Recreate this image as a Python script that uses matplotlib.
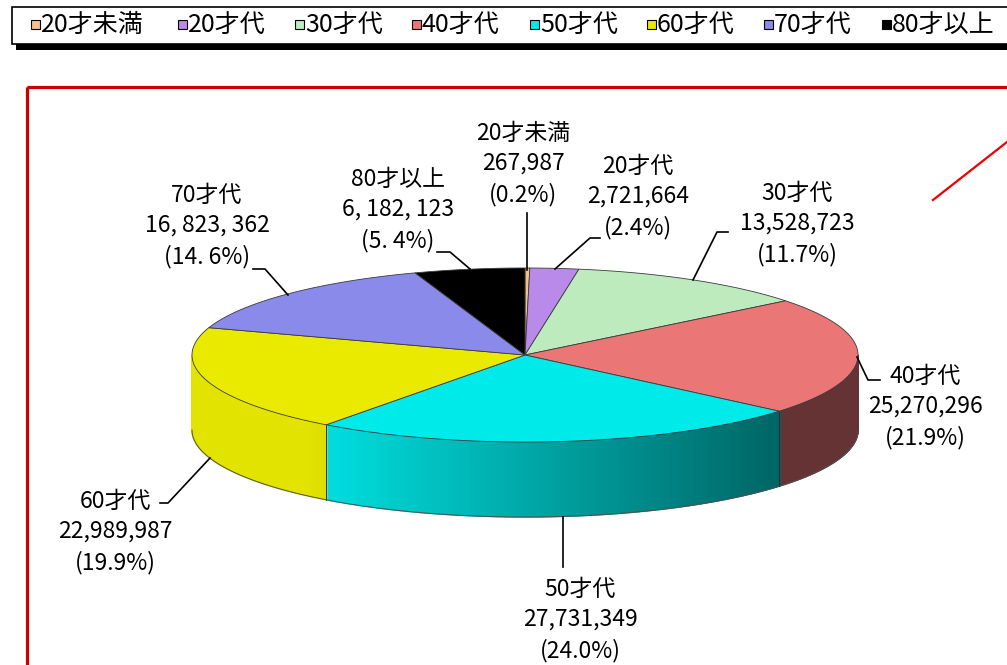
import matplotlib.pyplot as plt
import numpy as np
from matplotlib.patches import Polygon, Rectangle
from matplotlib.collections import PolyCollection
from matplotlib.colors import to_rgb

plt.rcParams['font.family'] = ['Noto Sans CJK JP', 'DejaVu Sans']

categories = ['20才未満', '20才代', '30才代', '40才代', '50才代', '60才代', '70才代', '80才以上']
values = [267987, 2721664, 13528723, 25270296, 27731349, 22989987, 16823362, 6182123]
value_labels = ['267,987', '2,721,664', '13,528,723', '25,270,296', '27,731,349',
                '22,989,987', '16, 823, 362', '6, 182, 123']
pct_labels = ['(0.2%)', '(2.4%)', '(11.7%)', '(21.9%)', '(24.0%)', '(19.9%)', '(14. 6%)', '(5. 4%)']
colors = ['#f6c08c', '#b98ae9', '#bdebbd', '#ea7676', '#00eaea', '#eaea00', '#8a8aea', '#000000']

# layout (pixel coordinates)
cx, cy, rx, ry, depth = 525, 355, 333, 87, 75
label_pos = [(523, 164), (638, 197), (797, 224), (925, 407),
             (580, 620), (115, 532), (207, 226), (398, 210)]
leaders = [
    [(527, 213), (527, 270)],
    [(600, 238), (590, 238), (555, 269)],
    [(728, 232), (717, 232), (693, 280)],
    [(857, 357), (868, 380), (880, 380)],
    [(563, 517), (563, 567)],
    [(160, 503), (168, 503), (210, 458)],
    [(253, 269), (265, 269), (288, 295)],
    [(437, 252), (450, 252), (470, 269)],
]
legend_x = [35, 182, 299, 416, 534, 651, 768, 886]

fig = plt.figure(figsize=(10.07, 6.65), dpi=100)
ax = fig.add_axes([0, 0, 1, 1])
ax.set_xlim(0, 1007)
ax.set_ylim(665, 0)
ax.axis('off')

frac = np.array(values) / sum(values)
edges = np.concatenate([[0], np.cumsum(frac)]) * 360


def ell(theta, dy=0.0):
    t = np.radians(theta)
    return cx + rx * np.sin(t), cy - ry * np.cos(t) + dy


# red frame
ax.add_patch(Rectangle((27, 87), 1000, 600, fill=False, ec='#cc0000', lw=2.3, zorder=1))
ax.plot([933, 1007], [200, 142], color='#ee0000', lw=1.6, zorder=1)

# side of the pie (front half), shaded strips
th = np.arange(90, 270.001, 0.5)
polys, cols = [], []
for t0, t1 in zip(th[:-1], th[1:]):
    tm = (t0 + t1) / 2
    i = min(np.searchsorted(edges, tm) - 1, len(values) - 1)
    shade = np.clip(0.72 - 0.38 * np.sin(np.radians(tm)), 0.43, 0.97)
    c = np.array(to_rgb(colors[i])) * shade
    x0, y0 = ell(t0)
    x1, y1 = ell(t1)
    polys.append([(x0, y0), (x1, y1), (x1, y1 + depth), (x0, y0 + depth)])
    cols.append(c)
ax.add_collection(PolyCollection(polys, facecolors=cols, edgecolors=cols, lw=1.0,
                                 antialiased=True, zorder=2))
bx, by = ell(th, depth)
ax.plot(bx, by, color='#505050', lw=0.7, zorder=3)
for e in edges:
    if 90 < e < 270:
        x, y = ell(e)
        ax.plot([x, x], [y, y + depth], color='#303030', lw=0.7, zorder=3)

# top face
for i in range(len(values)):
    t = np.linspace(edges[i], edges[i + 1], max(int((edges[i + 1] - edges[i]) * 2), 2))
    x, y = ell(t)
    pts = [(cx, cy)] + list(zip(x, y))
    ax.add_patch(Polygon(pts, closed=True, fc=colors[i], ec='#3a3a3a', lw=0.6, zorder=4))

# labels and leader lines
for i in range(len(values)):
    lx, ly = label_pos[i]
    ax.text(lx, ly, f'{categories[i]}\n{value_labels[i]}\n{pct_labels[i]}',
            ha='center', va='center', fontsize=16.5, linespacing=1.4, zorder=6)
    px, py = zip(*leaders[i])
    ax.plot(px, py, color='black', lw=1.2, zorder=5)

# legend box
ax.add_patch(Rectangle((16, 12), 1010, 38, fc='black', ec='none', zorder=7))
ax.add_patch(Rectangle((12, 7), 1010, 37, fc='white', ec='black', lw=1.2, zorder=8))
for i in range(len(values)):
    x = legend_x[i]
    ax.add_patch(Rectangle((x - 4.5, 19.5), 9, 9, fc=colors[i], ec='black', lw=0.8, zorder=9))
    ax.text(x + 6, 25, categories[i], ha='left', va='center', fontsize=18, zorder=9)

fig.savefig('out.png', dpi=100)
